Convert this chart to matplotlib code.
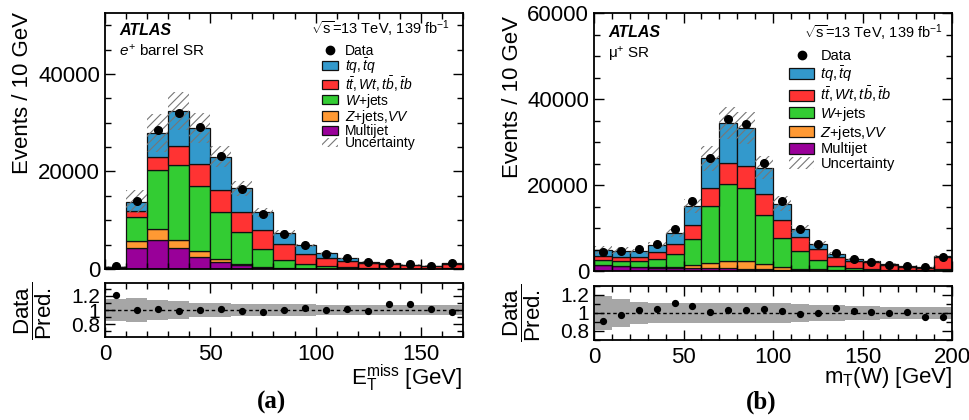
import numpy as np
import matplotlib
matplotlib.use("Agg")
import matplotlib.pyplot as plt
from matplotlib.patches import Patch
from matplotlib.lines import Line2D
from matplotlib.ticker import MultipleLocator

plt.rcParams['font.family'] = ['Liberation Sans', 'DejaVu Sans']
plt.rcParams['mathtext.fontset'] = 'custom'
plt.rcParams['mathtext.rm'] = 'Liberation Sans'
plt.rcParams['mathtext.it'] = 'Liberation Sans:italic'
plt.rcParams['mathtext.bf'] = 'Liberation Sans:bold'
plt.rcParams['hatch.linewidth'] = 0.8

# (a) E_T^miss, e+ barrel SR, 10 GeV bins 0..170
met_edges = np.arange(0, 180, 10)
met_data = [550, 13940, 28430, 31950, 29120, 23120, 16350, 11180, 7180, 4830, 3100, 2200, 1520, 1170, 950, 700, 1300]
met_multijet = [200, 4280, 6000, 4280, 2480, 1450, 830, 350, 150, 80, 40, 20, 10, 5, 5, 5, 10]
met_zjets = [30, 1450, 2140, 1650, 1250, 620, 205, 60, 50, 20, 10, 10, 5, 5, 3, 1, 5]
met_wjets = [150, 4970, 12080, 15460, 13380, 9660, 6555, 3730, 1730, 935, 500, 320, 185, 110, 72, 54, 135]
met_ttbar = [50, 1170, 2680, 3800, 4420, 4550, 4140, 3800, 3110, 2065, 1680, 1380, 1100, 850, 700, 540, 950]
met_tq = [30, 1930, 5050, 7240, 7450, 6770, 4830, 3650, 2410, 1730, 970, 450, 210, 200, 120, 90, 140]
met_ratio = [1.21, 0.995, 1.02, 0.99, 1.005, 1.01, 0.99, 0.977, 1.0, 1.028, 0.995, 1.014, 0.986, 1.087, 1.078, 1.018, 0.972]
met_unc = [0.15, 0.17, 0.14, 0.12, 0.105, 0.095, 0.09, 0.085, 0.08, 0.08, 0.075, 0.075, 0.07, 0.07, 0.07, 0.07, 0.07]

# (b) m_T(W), mu+ SR, 10 GeV bins 0..200
mt_edges = np.arange(0, 210, 10)
mt_data = [4430, 4590, 5060, 6380, 9730, 16260, 26370, 35320, 34230, 25050, 16260, 9880, 6380, 4120, 2720, 2180, 1480, 1090, 860, 3350]
mt_multijet = [1320, 1090, 860, 700, 620, 620, 620, 620, 550, 470, 300, 200, 100, 60, 40, 20, 10, 10, 5, 20]
mt_zjets = [150, 130, 120, 150, 250, 860, 1250, 1640, 1710, 1160, 560, 340, 250, 150, 100, 60, 40, 30, 20, 60]
mt_wjets = [1180, 1190, 1280, 1950, 3180, 6070, 13220, 17890, 17030, 11370, 6840, 4050, 2140, 880, 560, 390, 250, 160, 125, 310]
mt_ttbar = [930, 940, 1010, 1630, 2250, 3260, 4130, 5060, 5210, 4970, 4130, 3270, 2720, 2100, 1710, 1550, 1180, 800, 600, 2960]
mt_tq = [1320, 1400, 1320, 1720, 2490, 4360, 7000, 9180, 8800, 6070, 3810, 1940, 1090, 780, 470, 240, 230, 170, 110, 150]
mt_ratio = [0.915, 0.98, 1.037, 1.048, 1.107, 1.08, 1.007, 1.033, 1.037, 1.048, 1.026, 0.993, 0.996, 1.06, 1.026, 1.01, 0.996, 1.01, 0.956, 0.952]
mt_unc = [0.19, 0.16, 0.12, 0.11, 0.11, 0.11, 0.11, 0.11, 0.11, 0.11, 0.11, 0.10, 0.09, 0.09, 0.08, 0.08, 0.07, 0.07, 0.07, 0.07]

colors = ['#990099', '#ff9933', '#33cc33', '#ff3333', '#3399cc']
labels = [r'$tq,\bar{t}q$', r'$t\bar{t},Wt,t\bar{b},\bar{t}b$', r'$W$+jets', r'$Z$+jets,$VV$', 'Multijet']
FS = 16


def style_axis(ax):
    ax.tick_params(which='both', direction='in', top=True, right=True, labelsize=FS, width=1)
    ax.tick_params(which='major', length=7)
    ax.tick_params(which='minor', length=4)
    for s in ax.spines.values():
        s.set_linewidth(1.3)


def panel(main, rat, edges, comps, data, ratio, unc, ymax, ymajor, rlim, xmajor):
    edges = np.asarray(edges, float)
    w = np.diff(edges)
    left = edges[:-1]
    centers = left + w / 2
    bottom = np.zeros(len(left))
    for vals, c in zip(comps, colors):
        vals = np.asarray(vals, float)
        main.bar(left, vals, width=w, bottom=bottom, align='edge', color=c,
                 edgecolor='#111111', linewidth=0.9)
        bottom = bottom + vals
    unc = np.asarray(unc)
    lo = bottom * (1 - unc)
    main.bar(left, bottom * 2 * unc, width=w, bottom=lo, align='edge', fill=False,
             hatch='////', edgecolor='#777777', linewidth=0)
    main.plot(centers, data, 'o', color='black', ms=5.5, zorder=5)
    main.set_xlim(edges[0], edges[-1])
    main.set_ylim(0, ymax)
    main.yaxis.set_major_locator(MultipleLocator(ymajor))
    main.yaxis.set_minor_locator(MultipleLocator(5000))
    main.xaxis.set_major_locator(MultipleLocator(xmajor))
    main.xaxis.set_minor_locator(MultipleLocator(10))
    main.tick_params(labelbottom=False)
    style_axis(main)

    band_x = np.append(left, edges[-1])
    band_lo = np.append(1 - unc, 1 - unc[-1])
    band_hi = np.append(1 + unc, 1 + unc[-1])
    rat.fill_between(band_x, band_lo, band_hi, step='post', color='#a6a6a6', linewidth=0)
    rat.axhline(1, color='black', ls=(0, (2.5, 2)), lw=1)
    rat.plot(centers, ratio, 'o', color='black', ms=4.2, zorder=5)
    rat.set_xlim(edges[0], edges[-1])
    rat.set_ylim(*rlim)
    rat.set_yticks([0.8, 1.0, 1.2])
    rat.set_yticklabels(['0.8', '1', '1.2'])
    rat.yaxis.set_minor_locator(MultipleLocator(0.1))
    rat.xaxis.set_major_locator(MultipleLocator(xmajor))
    rat.xaxis.set_minor_locator(MultipleLocator(10))
    style_axis(rat)
    rat.tick_params(axis='y', labelsize=15)
    rat.tick_params(axis='x', pad=5)


def legend(ax, anchor, hl, hh, spacing, fs):
    handles = [Line2D([], [], marker='o', color='black', ls='none', ms=6)]
    for c in colors[::-1]:
        handles.append(Patch(facecolor=c, edgecolor='#111111', linewidth=0.9))
    handles.append(Patch(facecolor='none', edgecolor='#777777', hatch='////', linewidth=0))
    ax.legend(handles, ['Data'] + labels + ['Uncertainty'], loc='upper left',
              bbox_to_anchor=anchor, frameon=False, fontsize=fs, handlelength=hl,
              handleheight=hh, labelspacing=spacing, handletextpad=0.45, borderpad=0,
              borderaxespad=0)


fig = plt.figure(figsize=(9.69, 4.2), dpi=100)
W, H = 969.0, 420.0
axA = fig.add_axes([105 / W, 1 - 269 / H, 358 / W, 256 / H])
rA = fig.add_axes([105 / W, 1 - 337 / H, 358 / W, 54 / H])
axB = fig.add_axes([594 / W, 1 - 271 / H, 358 / W, 258 / H])
rB = fig.add_axes([594 / W, 1 - 340 / H, 358 / W, 54 / H])

panel(axA, rA, met_edges, [met_multijet, met_zjets, met_wjets, met_ttbar, met_tq],
      met_data, met_ratio, met_unc, 52500, 20000, (0.62, 1.38), 50)
panel(axB, rB, mt_edges, [mt_multijet, mt_zjets, mt_wjets, mt_ttbar, mt_tq],
      mt_data, mt_ratio, mt_unc, 60000, 20000, (0.7, 1.3), 50)

legend(axA, (0.605, 0.88), 1.2, 0.65, -0.13, 10)
legend(axB, (0.545, 0.86), 1.7, 0.8, 0.05, 10.5)

# labels inside panels
axA.text(0.04, 0.93, 'ATLAS', transform=axA.transAxes, fontsize=11.5, weight='bold',
         style='italic', va='center')
axA.text(0.04, 0.855, r'$e^{+}$ barrel SR', transform=axA.transAxes, fontsize=11, va='center')
axA.text(0.962, 0.94, r'$\sqrt{\mathrm{s}}$=13 TeV, 139 fb$^{-1}$', transform=axA.transAxes,
         fontsize=10.5, ha='right', va='center')
axB.text(0.04, 0.925, 'ATLAS', transform=axB.transAxes, fontsize=11.5, weight='bold',
         style='italic', va='center')
axB.text(0.04, 0.84, r'μ$^{+}$ SR', transform=axB.transAxes, fontsize=11, va='center')
axB.text(0.975, 0.925, r'$\sqrt{\mathrm{s}}$=13 TeV, 139 fb$^{-1}$', transform=axB.transAxes,
         fontsize=10.5, ha='right', va='center')

fig.text(23 / W, 1 - 93 / H, 'Events / 10 GeV', rotation=90, fontsize=FS, ha='center', va='center')
fig.text(513 / W, 1 - 97 / H, 'Events / 10 GeV', rotation=90, fontsize=FS, ha='center', va='center')
fig.text(33 / W, 1 - 311 / H, r'$\dfrac{\mathrm{Data}}{\mathrm{Pred.}}$', rotation=90, fontsize=FS,
         ha='center', va='center')
fig.text(522 / W, 1 - 313 / H, r'$\dfrac{\mathrm{Data}}{\mathrm{Pred.}}$', rotation=90, fontsize=FS,
         ha='center', va='center')

fig.text(462 / W, 1 - 378 / H, r'$\mathrm{E}_{\mathrm{T}}^{\mathrm{miss}}$ [GeV]', fontsize=FS,
         ha='right', va='center')
fig.text(952 / W, 1 - 377 / H, r'm$_{\mathrm{T}}$(W) [GeV]', fontsize=FS, ha='right', va='center')

fig.text(272 / W, 1 - 402 / H, '(a)', fontsize=18, weight='bold', family='Liberation Serif',
         ha='center', va='center')
fig.text(761 / W, 1 - 402 / H, '(b)', fontsize=18, weight='bold', family='Liberation Serif',
         ha='center', va='center')

fig.savefig('out.png', dpi=100)
